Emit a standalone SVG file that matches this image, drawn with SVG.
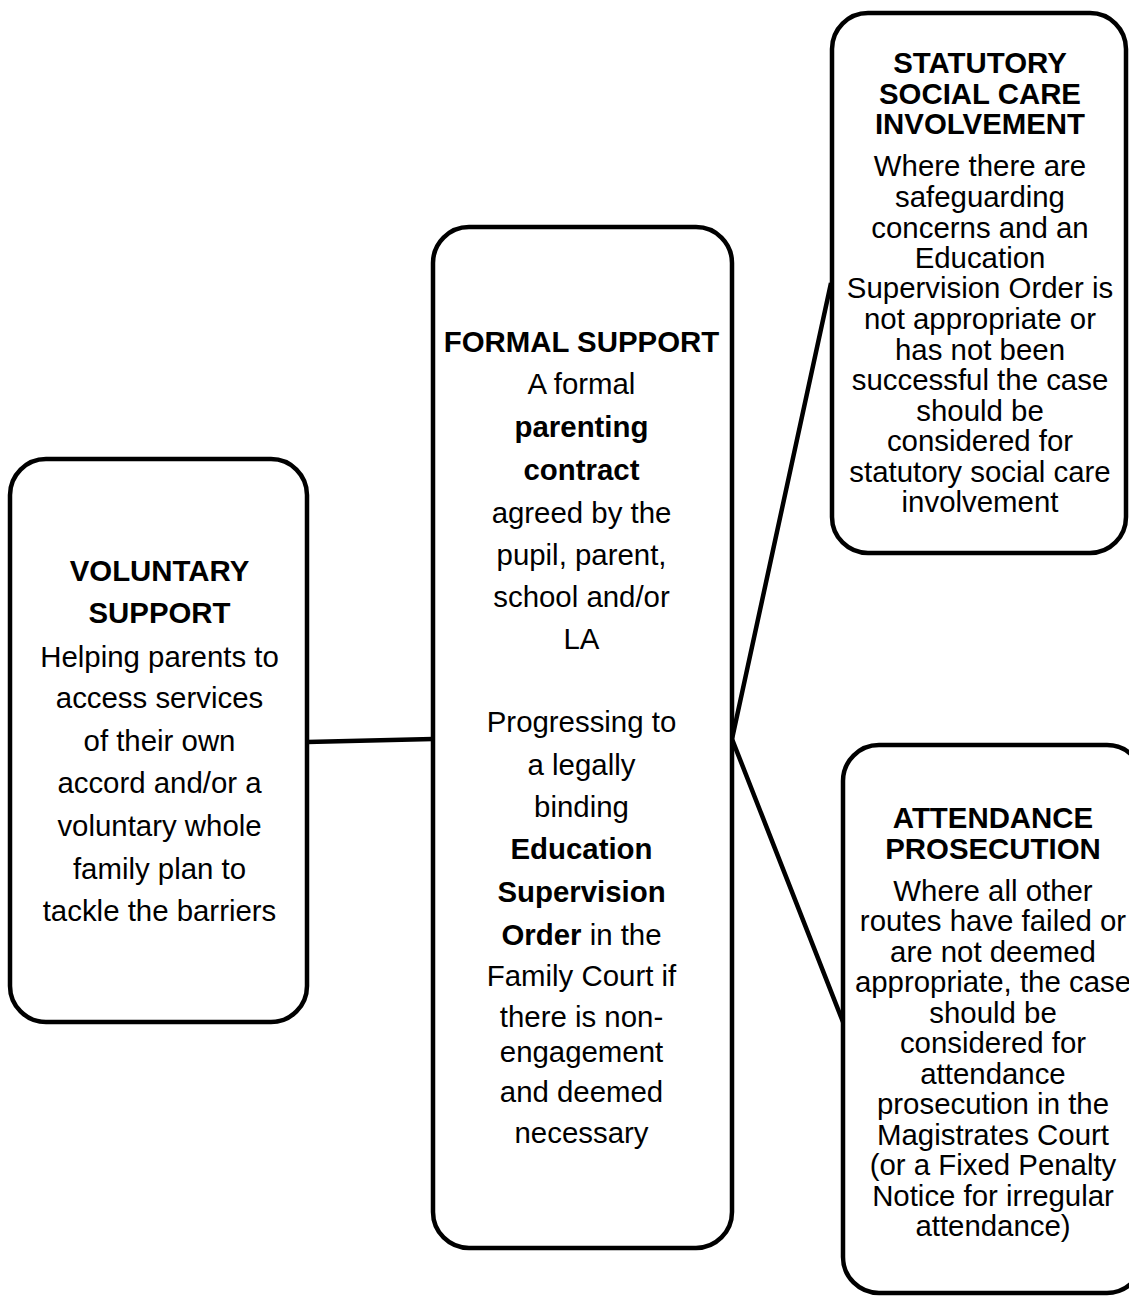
<svg xmlns="http://www.w3.org/2000/svg" width="1129" height="1296" viewBox="0 0 1129 1296">
<style>
.box{fill:#fff;stroke:#000;stroke-width:4.5}
.con{fill:none;stroke:#000;stroke-width:4.5}
text{font-family:"Liberation Sans",Arial,sans-serif;font-size:29.4px;fill:#000;text-anchor:middle}
.b{font-weight:bold}
</style>
<rect width="1129" height="1296" fill="#fff"/>
<g id="connectors">
<line class="con" x1="307" y1="742" x2="433" y2="739"/>
<polyline class="con" points="831,283 732,739 843,1022"/>
</g>
<g id="voluntary">
<rect class="box" x="10" y="459" width="297" height="563" rx="36"/>
<text x="159.5" y="581" class="b">VOLUNTARY</text>
<text x="159.5" y="623" class="b">SUPPORT</text>
<text x="159.5" y="667">Helping parents to</text>
<text x="159.5" y="708">access services</text>
<text x="159.5" y="751">of their own</text>
<text x="159.5" y="793">accord and/or a</text>
<text x="159.5" y="836">voluntary whole</text>
<text x="159.5" y="879">family plan to</text>
<text x="159.5" y="921">tackle the barriers</text>
</g>
<g id="formal">
<rect class="box" x="433" y="227" width="299" height="1021" rx="36"/>
<text x="581.5" y="352" class="b">FORMAL SUPPORT</text>
<text x="581.5" y="394">A formal</text>
<text x="581.5" y="437" class="b">parenting</text>
<text x="581.5" y="480" class="b">contract</text>
<text x="581.5" y="523">agreed by the</text>
<text x="581.5" y="565">pupil, parent,</text>
<text x="581.5" y="607">school and/or</text>
<text x="581.5" y="649">LA</text>
<text x="581.5" y="732">Progressing to</text>
<text x="581.5" y="775">a legally</text>
<text x="581.5" y="817">binding</text>
<text x="581.5" y="859" class="b">Education</text>
<text x="581.5" y="902" class="b">Supervision</text>
<text x="581.5" y="945"><tspan class="b">Order</tspan> in the</text>
<text x="581.5" y="986">Family Court if</text>
<text x="581.5" y="1027">there is non-</text>
<text x="581.5" y="1062">engagement</text>
<text x="581.5" y="1102">and deemed</text>
<text x="581.5" y="1143">necessary</text>
</g>
<g id="statutory">
<rect class="box" x="832" y="13" width="294" height="540" rx="36"/>
<text x="980" y="73" class="b">STATUTORY</text>
<text x="980" y="104" class="b">SOCIAL CARE</text>
<text x="980" y="134" class="b">INVOLVEMENT</text>
<text x="980" y="176">Where there are</text>
<text x="980" y="207">safeguarding</text>
<text x="980" y="238">concerns and an</text>
<text x="980" y="268">Education</text>
<text x="980" y="298">Supervision Order is</text>
<text x="980" y="329">not appropriate or</text>
<text x="980" y="360">has not been</text>
<text x="980" y="390">successful the case</text>
<text x="980" y="421">should be</text>
<text x="980" y="451">considered for</text>
<text x="980" y="482">statutory social care</text>
<text x="980" y="512">involvement</text>
</g>
<g id="attendance">
<rect class="box" x="843" y="745" width="300" height="548" rx="36"/>
<text x="993" y="828" class="b">ATTENDANCE</text>
<text x="993" y="859" class="b">PROSECUTION</text>
<text x="993" y="901">Where all other</text>
<text x="993" y="931">routes have failed or</text>
<text x="993" y="962">are not deemed</text>
<text x="993" y="992">appropriate, the case</text>
<text x="993" y="1023">should be</text>
<text x="993" y="1053">considered for</text>
<text x="993" y="1084">attendance</text>
<text x="993" y="1114">prosecution in the</text>
<text x="993" y="1145">Magistrates Court</text>
<text x="993" y="1175">(or a Fixed Penalty</text>
<text x="993" y="1206">Notice for irregular</text>
<text x="993" y="1236">attendance)</text>
</g>
</svg>
